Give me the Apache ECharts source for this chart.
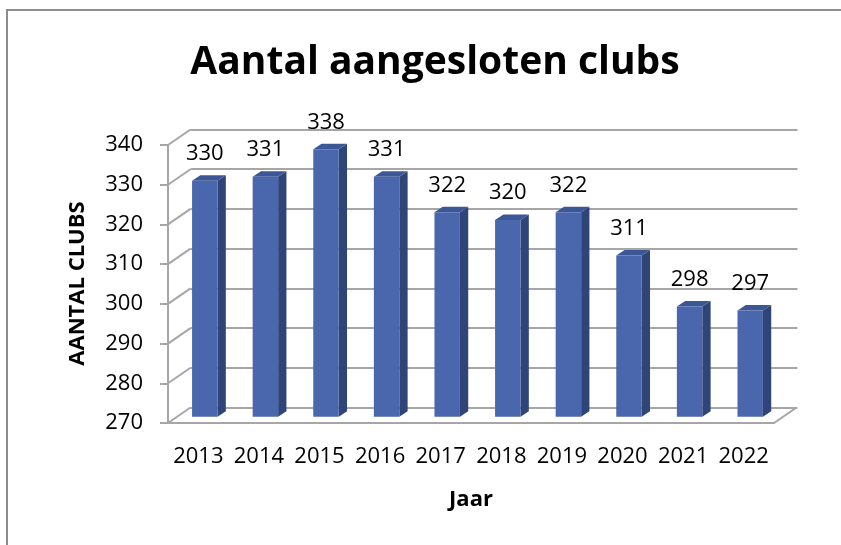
<!DOCTYPE html>
<html>
<head>
<meta charset="utf-8">
<script src="https://cdn.jsdelivr.net/npm/echarts@6/dist/echarts.min.js"></script>
<style>html,body{margin:0;padding:0;background:#fff;}#c{width:841px;height:545px;}</style>
</head>
<body>
<div id="c"></div>
<script>
const years = ['2013','2014','2015','2016','2017','2018','2019','2020','2021','2022'];
const clubs = [330, 331, 338, 331, 322, 320, 322, 311, 298, 297];
const yMin = 270, yMax = 340, yStep = 10;
const yTicks = [270, 280, 290, 300, 310, 320, 330, 340];
const titleText = 'Aantal aangesloten clubs';
const yName = 'AANTAL CLUBS';
const xName = 'Jaar';

const FONT = '"Open Sans", "Liberation Sans", sans-serif';
const GRID_COLOR = '#a6a6a6';
const DX = 22.5, DY = -15.5;          // depth of the 3D box
const BAR_DX = 8.3, BAR_DY = -5.5;    // depth of the bars
const BAR_SHIFT_X = 6.5, BAR_SHIFT_Y = -6.3, BAR_K = 0.99;

const chart = echarts.init(document.getElementById('c'), null, {renderer: 'canvas'});

const option = {
  animation: false,
  backgroundColor: '#fff',
  title: {
    text: titleText, left: 430, top: 38, textAlign: 'center',
    textStyle: {fontFamily: FONT, fontWeight: 'bold', fontSize: 39, color: '#000'}
  },
  grid: [
    {left: 168, top: 145, width: 606, height: 278},
    {left: 168 + DX, top: 145 + DY, width: 606 + 1, height: 278}
  ],
  xAxis: [
    {gridIndex: 0, type: 'category', data: years,
     axisLine: {show: false}, axisTick: {show: false},
     axisLabel: {interval: 0, margin: 23, fontFamily: FONT, fontSize: 22, color: '#000'}},
    {gridIndex: 1, type: 'category', data: years, show: false}
  ],
  yAxis: [
    {gridIndex: 0, type: 'value', min: yMin, max: yMax, interval: yStep,
     axisLine: {show: true, lineStyle: {color: GRID_COLOR, width: 2}},
     axisTick: {show: true, length: 8, lineStyle: {color: GRID_COLOR, width: 2}},
     splitLine: {show: false},
     axisLabel: {margin: 25, fontFamily: FONT, fontSize: 22, color: '#000'}},
    {gridIndex: 1, type: 'value', min: yMin, max: yMax, interval: yStep,
     axisLine: {show: false}, axisTick: {show: false}, axisLabel: {show: false},
     splitLine: {show: true, lineStyle: {color: GRID_COLOR, width: 2}}}
  ],
  graphic: [
    {type: 'rect', shape: {x: 7, y: 10, width: 900, height: 600},
     style: {fill: null, stroke: '#8c8c8c', lineWidth: 2}, silent: true, z: 0},
    {type: 'text', x: 77.5, y: 283.5, rotation: Math.PI / 2,
     style: {text: yName, fontFamily: FONT, fontWeight: 'bold', fontSize: 22, fill: '#000',
             align: 'center', verticalAlign: 'middle'}},
    {type: 'text', x: 471, y: 500,
     style: {text: xName, fontFamily: FONT, fontWeight: 'bold', fontSize: 22, fill: '#000',
             align: 'center', verticalAlign: 'middle'}}
  ],
  series: [
    {
      // left wall diagonals at each tick
      type: 'custom', xAxisIndex: 0, yAxisIndex: 0, z: 2,
      data: yTicks.map(v => [0, v]),
      renderItem: function (params, api) {
        const p = api.coord([0, api.value(1)]);
        const x0 = params.coordSys.x;
        return {type: 'line', shape: {x1: x0, y1: p[1], x2: x0 + DX, y2: p[1] + DY},
                style: {stroke: GRID_COLOR, lineWidth: 2}};
      }
    },
    {
      // floor front edge + right edge
      type: 'custom', xAxisIndex: 0, yAxisIndex: 0, z: 2,
      data: [[0, yMin]],
      renderItem: function (params, api) {
        const p = api.coord([0, api.value(1)]);
        const cs = params.coordSys;
        const x0 = cs.x, x1 = cs.x + cs.width;
        return {type: 'polyline', shape: {points: [[x0, p[1]], [x1, p[1]], [x1 + DX, p[1] + DY]]},
                style: {stroke: GRID_COLOR, lineWidth: 2, fill: null}};
      }
    },
    {
      // 3D bars
      type: 'custom', xAxisIndex: 0, yAxisIndex: 0, z: 5,
      data: clubs.map((v, i) => [i, v]),
      renderItem: function (params, api) {
        const i = api.value(0), v = api.value(1);
        const c = api.coord([i, v]);
        const b = api.coord([i, yMin]);
        const band = api.size([1, 0])[0];
        const fw = band * 0.42;
        const cx = c[0] + BAR_SHIFT_X;
        const bottom = b[1] + BAR_SHIFT_Y;
        const top = bottom - (b[1] - c[1]) * BAR_K;
        const xl = cx - fw / 2, xr = cx + fw / 2;
        return {
          type: 'group',
          children: [
            {type: 'polygon', shape: {points: [[xr, top], [xr + BAR_DX, top + BAR_DY], [xr + BAR_DX, bottom + BAR_DY], [xr, bottom]]},
             style: {fill: '#2f4477'}},
            {type: 'polygon', shape: {points: [[xl, top], [xr, top], [xr + BAR_DX, top + BAR_DY], [xl + BAR_DX, top + BAR_DY]]},
             style: {fill: '#3c5696'}},
            {type: 'rect', shape: {x: xl, y: top, width: fw, height: bottom - top},
             style: {fill: '#4a66ac'}},
            {type: 'text', x: cx, y: top - 27,
             style: {text: String(v), fontFamily: FONT, fontSize: 22, fill: '#000',
                     align: 'center', verticalAlign: 'middle'}}
          ]
        };
      }
    }
  ]
};
chart.setOption(option);
</script>
</body>
</html>
